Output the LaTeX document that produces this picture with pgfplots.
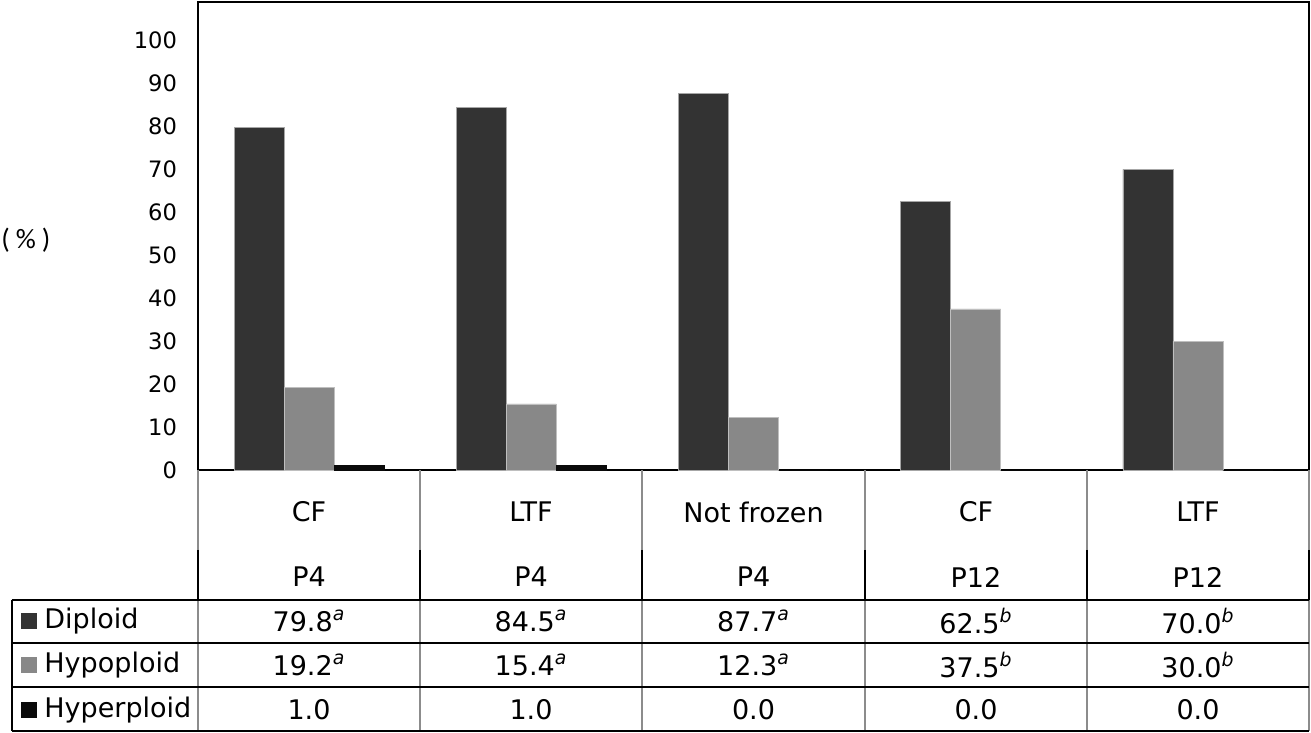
\documentclass[border=0pt]{standalone}
\usepackage{fontspec}
\setmainfont{DejaVu Sans}
\newfontfamily\carl{Carlito}
\usepackage{pgfplots}
\pgfplotsset{compat=1.18}
\definecolor{dip}{HTML}{333333}
\definecolor{hypo}{HTML}{888888}
\definecolor{hyper}{HTML}{0A0A0A}
\definecolor{gline}{HTML}{8C8C8C}
\newcommand{\tf}{\fontsize{13.5}{16}\selectfont}
\newcommand{\supi}[1]{\textsuperscript{\itshape #1}}
\begin{document}
\begin{tikzpicture}[x=0.5pt,y=0.5pt]
\path (0,0) rectangle (1311,733);
\begin{axis}[at={(99pt,131.5pt)}, anchor=south west,
  width=555.5pt, height=234pt, scale only axis,
  xmin=-0.5, xmax=4.5, ymin=0, ymax=109,
  ytick={0,10,...,100}, xtick=\empty, major tick length=0pt,
  ybar, bar width=0.225,
  axis line style={line width=0.8pt},
  tick label style={font=\fontsize{11.3}{13}\selectfont},
  /pgf/number format/assume math mode=true,
  yticklabel style={anchor=east, xshift=-7pt},
  clip=false]
\addplot[fill=dip, draw=gray!70, line width=0.3pt, bar shift=-0.225] coordinates {(0,79.8) (1,84.5) (2,87.7) (3,62.5) (4,70.0)};
\addplot[fill=hypo, draw=gray!50, line width=0.3pt, bar shift=0] coordinates {(0,19.2) (1,15.4) (2,12.3) (3,37.5) (4,30.0)};
\addplot[fill=hyper, draw=hyper, line width=0.3pt, bar shift=0.225] coordinates {(0,1.0) (1,1.0) (2,0) (3,0) (4,0)};
\end{axis}
% y label
\node[font=\carl\fontsize{14}{16}\selectfont, anchor=west, inner sep=0pt] at (1,493) {(\hspace{3pt}\%\hspace{3pt})};
% table lines
\foreach \xx in {198,420,642,865,1087,1309} {
  \draw[gline, line width=0.75pt] (\xx,263) -- (\xx,183);
  \draw[black, line width=0.75pt] (\xx,183) -- (\xx,133);
  \draw[gline, line width=0.75pt] (\xx,133) -- (\xx,2);
}
\draw[black, line width=0.75pt] (12,133) -- (12,1.6);
\foreach \yy in {133,90,46,2} {
  \draw[black, line width=0.75pt] (11.6,\yy) -- (1309.4,\yy);
}
% category labels
\foreach \cx/\ta/\tb in {309/CF/P4, 531/LTF/P4, 753.5/Not frozen/P4, 976/CF/P12, 1198/LTF/P12} {
  \node[font=\tf] at (\cx,221) {\ta};
  \node[font=\tf] at (\cx,156) {\tb};
}
% legend column
\fill[dip] (21,104) rectangle (37,120);
\fill[hypo] (21,60) rectangle (37,76);
\fill[hyper] (21,15) rectangle (37,31);
\node[font=\tf, anchor=west, inner sep=0pt] at (44,112) {Diploid};
\node[font=\tf, anchor=west, inner sep=0pt] at (44,68) {Hypoploid};
\node[font=\tf, anchor=west, inner sep=0pt] at (44,23) {Hyperploid};
% values
\node[font=\tf] at (309,112) {79.8\supi{a}};
\node[font=\tf] at (531,112) {84.5\supi{a}};
\node[font=\tf] at (753.5,112) {87.7\supi{a}};
\node[font=\tf] at (976,112) {62.5\supi{b}};
\node[font=\tf] at (1198,112) {70.0\supi{b}};
\node[font=\tf] at (309,68) {19.2\supi{a}};
\node[font=\tf] at (531,68) {15.4\supi{a}};
\node[font=\tf] at (753.5,68) {12.3\supi{a}};
\node[font=\tf] at (976,68) {37.5\supi{b}};
\node[font=\tf] at (1198,68) {30.0\supi{b}};
\node[font=\tf] at (309,23) {1.0};
\node[font=\tf] at (531,23) {1.0};
\node[font=\tf] at (753.5,23) {0.0};
\node[font=\tf] at (976,23) {0.0};
\node[font=\tf] at (1198,23) {0.0};
\end{tikzpicture}
\end{document}
